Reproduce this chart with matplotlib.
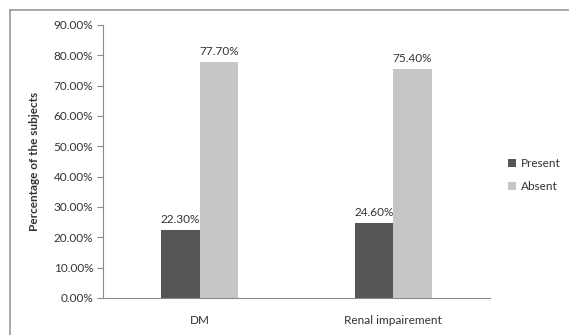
import matplotlib.pyplot as plt
import matplotlib.lines as mlines
import numpy as np

categories = ["DM", "Renal impairement"]
present = [0.223, 0.246]
absent = [0.777, 0.754]
series_names = ["Present", "Absent"]

TEXT = "#333333"
AXIS = "#8c8c8c"
DARK = "#555555"
LIGHT = "#c6c6c6"

plt.rcParams["font.family"] = ["Lato", "DejaVu Sans"]

fig = plt.figure(figsize=(5.69, 3.35), dpi=100)
ax = fig.add_axes([103 / 569, 1 - 298 / 335, 387 / 569, 273 / 335])

x = np.arange(len(categories))
width = 0.2
b1 = ax.bar(x - width / 2, present, width, color=DARK, label=series_names[0])
b2 = ax.bar(x + width / 2, absent, width, color=LIGHT, label=series_names[1])

for bars in (b1, b2):
    ax.bar_label(bars, labels=[f"{v * 100:.2f}%" for v in bars.datavalues],
                 padding=4, fontsize=8.5, color=TEXT)

ax.set_xlim(-0.5, 1.5)
ax.set_ylim(0, 0.9)
ax.set_yticks(np.arange(0, 0.91, 0.1))
ax.set_yticklabels([f"{v * 100:.2f}%" for v in np.arange(0, 0.91, 0.1)])
ax.set_xticks(x)
ax.set_xticklabels(categories)
ax.tick_params(axis="y", length=4, color=AXIS, labelsize=8.5, labelcolor=TEXT, pad=3)
ax.tick_params(axis="x", length=0, labelsize=8.5, labelcolor=TEXT, pad=12)

for side in ("top", "right"):
    ax.spines[side].set_visible(False)
for side in ("left", "bottom"):
    ax.spines[side].set_color(AXIS)
    ax.spines[side].set_linewidth(0.8)

ax.set_ylabel("Percentage of the subjects", fontsize=8.5, fontweight="bold",
              color=TEXT, labelpad=10)

ax.legend(loc="center left", bbox_to_anchor=(497 / 569, 1 - 175 / 335),
          bbox_transform=fig.transFigure, frameon=False, fontsize=8.5,
          handlelength=0.7, handleheight=0.7, handletextpad=0.4,
          labelspacing=1.05, labelcolor=TEXT)

# outer chart frame (left and top edges)
fig.add_artist(mlines.Line2D([10 / 569, 10 / 569], [0, 1 - 10 / 335],
                             transform=fig.transFigure, color="#9a9a9a", lw=1.2))
fig.add_artist(mlines.Line2D([10 / 569, 1], [1 - 10 / 335, 1 - 10 / 335],
                             transform=fig.transFigure, color="#9a9a9a", lw=1.2))

fig.savefig("out.png", dpi=100)
